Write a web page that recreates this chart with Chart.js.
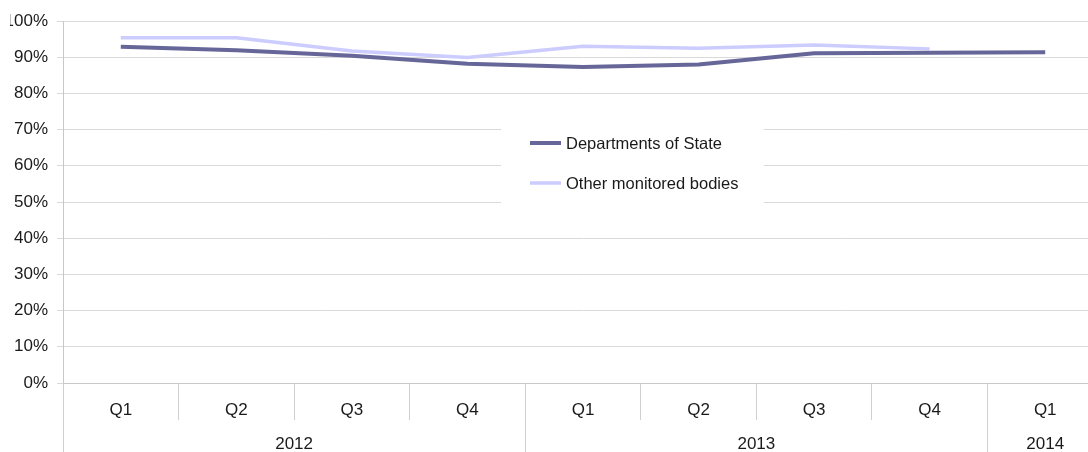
<!DOCTYPE html>
<html>
<head>
<meta charset="utf-8">
<script src="https://cdn.jsdelivr.net/npm/chart.js@4.4.1/dist/chart.umd.min.js"></script>
<style>
    html, body { margin: 0; padding: 0; background: #fff; overflow: hidden; }
    /* the source image is cropped a few pixels into the "100%" label */
    #frame { position: absolute; left: 10px; top: 0; width: 1078px; height: 452px; overflow: hidden; }
    #chart { display: block; margin-left: -10px; }
</style>
</head>
<body>
<div id="frame"><canvas id="chart" width="1104" height="452"></canvas></div>
<script>
// --- data ---
const quarters = ['Q1', 'Q2', 'Q3', 'Q4', 'Q1', 'Q2', 'Q3', 'Q4', 'Q1'];
const years = ['2012', '2012', '2012', '2012', '2013', '2013', '2013', '2013', '2014'];
const deptState = [92.9, 91.9, 90.4, 88.2, 87.3, 88.0, 91.1, 91.2, 91.4];
const otherBodies = [95.4, 95.4, 91.7, 89.9, 93.0, 92.5, 93.4, 92.3, null];

const FONT = '"Liberation Sans", Arial, sans-serif';
const TEXT = '#1a1a1a';
Chart.defaults.font.family = FONT;
Chart.defaults.font.size = 17;
Chart.defaults.color = TEXT;

// second row of the category axis: years grouped under their quarters
const yearAxis = {
    id: 'yearAxis',
    afterDraw(chart) {
        const x = chart.scales.x;
        const ctx = chart.ctx;
        const step = x.width / quarters.length;
        ctx.save();
        ctx.strokeStyle = '#d0d0d0';
        ctx.lineWidth = 1;
        ctx.fillStyle = TEXT;
        ctx.font = '17px ' + FONT;
        ctx.textAlign = 'center';
        ctx.textBaseline = 'middle';
        let start = 0;
        for (let i = 1; i <= years.length; i++) {
            if (i === years.length || years[i] !== years[start]) {
                const left = x.getPixelForValue(start) - step / 2;
                const right = x.getPixelForValue(i - 1) + step / 2;
                const lx = Math.round(left) + 0.5;
                ctx.beginPath();
                ctx.moveTo(lx, x.top);
                ctx.lineTo(lx, chart.height);
                ctx.stroke();
                ctx.fillText(years[start], (left + right) / 2, x.top + 61);
                start = i;
            }
        }
        ctx.restore();
    }
};

// legend sits inside the plot on a white box
const insideLegend = {
    id: 'insideLegend',
    afterDraw(chart) {
        const ctx = chart.ctx;
        const box = { x: 501, y: 120, w: 263, h: 88 };
        ctx.save();
        ctx.fillStyle = '#fff';
        ctx.fillRect(box.x, box.y, box.w, box.h);
        ctx.font = '16.5px ' + FONT;
        ctx.textBaseline = 'middle';
        chart.data.datasets.forEach((ds, i) => {
            const y = box.y + 23 + i * 40;
            ctx.strokeStyle = ds.borderColor;
            ctx.lineWidth = ds.borderWidth;
            ctx.beginPath();
            ctx.moveTo(box.x + 29, y);
            ctx.lineTo(box.x + 60, y);
            ctx.stroke();
            ctx.fillStyle = TEXT;
            ctx.fillText(ds.label, box.x + 65, y + 1);
        });
        ctx.restore();
    }
};

new Chart(document.getElementById('chart'), {
    type: 'line',
    data: {
        labels: quarters,
        datasets: [
            {
                label: 'Departments of State',
                data: deptState,
                borderColor: '#666699',
                borderWidth: 4,
                pointRadius: 0,
                tension: 0,
                borderJoinStyle: 'round'
            },
            {
                label: 'Other monitored bodies',
                data: otherBodies,
                borderColor: '#ccccff',
                borderWidth: 3.5,
                pointRadius: 0,
                tension: 0,
                borderJoinStyle: 'round'
            }
        ]
    },
    options: {
        responsive: false,
        animation: false,
        layout: { padding: { top: 21, right: 1, bottom: 0, left: 0 } },
        plugins: { legend: { display: false }, tooltip: { enabled: false } },
        scales: {
            x: {
                offset: true,
                grid: { offset: true, drawOnChartArea: false, tickLength: 37, color: '#d0d0d0' },
                border: { color: '#c8c8c8' },
                ticks: { padding: -20, maxRotation: 0, autoSkip: false },
                afterFit: s => { s.height = 69; }
            },
            y: {
                min: 0,
                max: 100,
                grid: { color: '#d9d9d9', tickLength: 6 },
                border: { color: '#c8c8c8' },
                ticks: { stepSize: 10, padding: 9, callback: v => v + '%' },
                afterFit: s => { s.width = 63; }
            }
        }
    },
    plugins: [yearAxis, insideLegend]
});
</script>
</body>
</html>
